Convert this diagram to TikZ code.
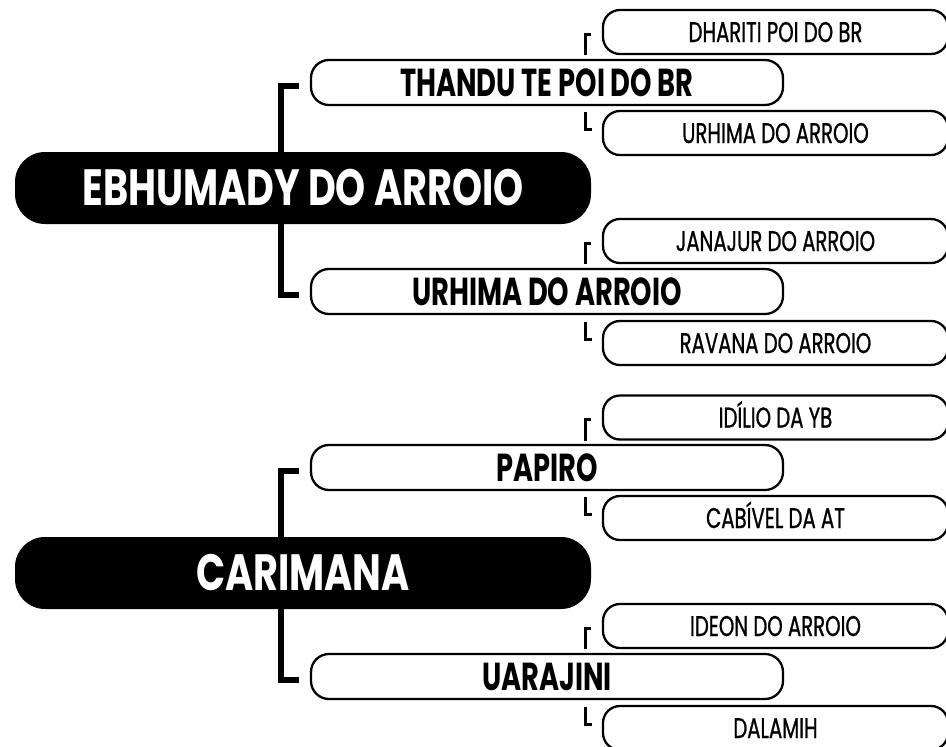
\documentclass[tikz,border=0pt]{standalone}
\usepackage{fontspec}
\usetikzlibrary{backgrounds}
\newfontfamily\rootfont{Poppins}[FakeStretch=0.75]
\newfontfamily\parentfont{Poppins}[FakeStretch=0.7]
\newfontfamily\gpfont{Poppins}[FakeStretch=0.69, FakeBold=0.8]
\tikzset{
  rootbox/.style={fill=black, text=white, rounded corners=30pt, minimum width=576pt,
    minimum height=72pt, inner sep=0pt, text height=35pt, text depth=0pt,
    font=\rootfont\bfseries\fontsize{51}{51}\selectfont},
  parentbox/.style={draw, fill=white, line width=2.3pt, rounded corners=18pt,
    minimum width=472pt, minimum height=45pt, inner sep=0pt, text height=27pt, text depth=0pt,
    font=\parentfont\bfseries\fontsize{39}{39}\selectfont},
  gpbox/.style={draw, fill=white, line width=2.3pt, rounded corners=17pt,
    minimum width=345pt, minimum height=44pt, inner sep=0pt, text height=20pt, text depth=0pt,
    font=\gpfont\fontsize{28.5}{28.5}\selectfont},
  bigbracket/.style={line width=6pt},
  smallmark/.style={line width=3pt}
}
\begin{document}
\begin{tikzpicture}[x=1pt, y=-1pt]
  \useasboundingbox (0,0) rectangle (946,747);
  \clip (0,0) rectangle (946,747);
  % first family
  \node[rootbox] (ebhumady) at (303,188) {EBHUMADY DO ARROIO};
  \node[parentbox] (thandu) at (547,82.5) {THANDU TE POI DO BR};
  \node[parentbox] (urhimaP) at (547,291.5) {URHIMA DO ARROIO};
  \node[gpbox] (dhariti) at (775.5,32) {DHARITI POI DO BR};
  \node[gpbox] (urhimaG) at (775.5,133) {URHIMA DO ARROIO};
  \node[gpbox] (janajur) at (775.5,241) {JANAJUR DO ARROIO};
  \node[gpbox] (ravana) at (775.5,343) {RAVANA DO ARROIO};
  % second family
  \node[rootbox] (carimana) at (303,573) {CARIMANA};
  \node[parentbox] (papiro) at (547,467.5) {PAPIRO};
  \node[parentbox] (uarajini) at (547,676.5) {UARAJINI};
  \node[gpbox] (idilio) at (775.5,417.5) {IDÍLIO DA YB};
  \node[gpbox] (cabivel) at (775.5,518) {CABÍVEL DA AT};
  \node[gpbox] (ideon) at (775.5,626) {IDEON DO ARROIO};
  \node[gpbox] (dalamih) at (775.5,728) {DALAMIH};
  \begin{scope}[on background layer]
    \draw[bigbracket] ([xshift=-11pt,yshift=-3pt]thandu.west) -- ++(-18,0) |- ([xshift=-11pt,yshift=-3pt]urhimaP.west);
    \draw[bigbracket] ([xshift=-11pt,yshift=-3pt]papiro.west) -- ++(-18,0) |- ([xshift=-11pt,yshift=-3pt]uarajini.west);
  \end{scope}
  \begin{scope}[smallmark]
    \draw ([xshift=-11pt,yshift=-2pt]dhariti.west) -- ++(-5.5,0) -- ++(0,21);
    \draw ([xshift=-10pt,yshift=4pt]urhimaG.west) -- ++(-6.5,0) -- ++(0,-17);
    \draw ([xshift=-11pt,yshift=-2pt]janajur.west) -- ++(-5.5,0) -- ++(0,21);
    \draw ([xshift=-10pt,yshift=4pt]ravana.west) -- ++(-6.5,0) -- ++(0,-17);
    \draw ([xshift=-11pt,yshift=-2pt]idilio.west) -- ++(-5.5,0) -- ++(0,21);
    \draw ([xshift=-10pt,yshift=4pt]cabivel.west) -- ++(-6.5,0) -- ++(0,-17);
    \draw ([xshift=-11pt,yshift=-2pt]ideon.west) -- ++(-5.5,0) -- ++(0,21);
    \draw ([xshift=-10pt,yshift=4pt]dalamih.west) -- ++(-6.5,0) -- ++(0,-17);
  \end{scope}
\end{tikzpicture}
\end{document}
